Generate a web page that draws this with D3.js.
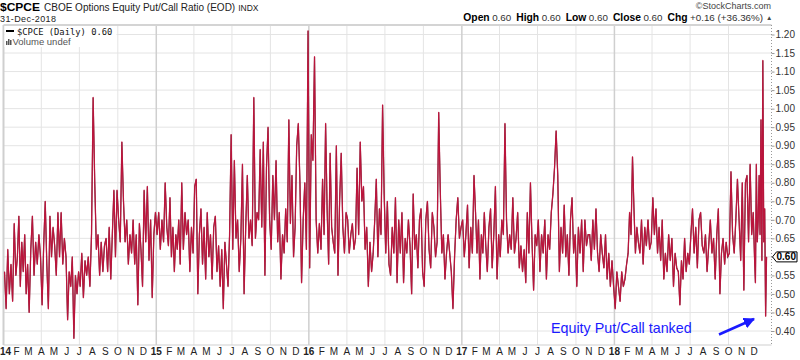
<!DOCTYPE html>
<html><head><meta charset="utf-8">
<script src="https://cdn.jsdelivr.net/npm/d3@7"></script>
<style>body{margin:0;background:#fff} svg{display:block}</style>
</head><body><svg id="c" width="800" height="360"></svg>
<script>
// $CPCE daily values, grouped by month
const cpce2014 = [
 [0.56,0.46,0.62,0.50,0.58,0.48,0.69,0.55],
 [0.60,0.71,0.52,0.64,0.56,0.66,0.50,0.58],
 [0.45,0.62,0.71,0.55,0.64,0.58,0.66,0.60],
 [0.47,0.63,0.75,0.58,0.46,0.71,0.60,0.68],
 [0.63,0.55,0.72,0.60,0.72,0.58,0.65,0.60],
 [0.43,0.56,0.52,0.60,0.38,0.55,0.50,0.56],
 [0.52,0.61,0.49,0.59,0.55,0.60,0.52,0.66],
 [1.03,0.80,0.62,0.66,0.55,0.64,0.56,0.63],
 [0.65,0.56,0.68,0.54,0.66,0.78,0.60,0.78],
 [0.70,0.64,0.91,0.75,0.64,0.70,0.58,0.66],
 [0.61,0.70,0.58,0.66,0.47,0.69,0.62,0.52],
 [0.78,0.64,0.79,0.59,0.70,0.49,0.66,0.72]
];
const cpce2015 = [
 [0.66,0.72,0.62,0.70,0.64,0.80,0.68,0.63],
 [0.76,0.60,0.68,0.56,0.66,0.62,0.70,0.58],
 [0.80,0.62,0.72,0.66,0.70,0.56,0.68,0.61],
 [0.79,0.81,0.50,0.66,0.73,0.58,0.68,0.54],
 [0.72,0.60,0.66,0.54,0.68,0.71,0.56,0.63],
 [0.52,0.62,0.46,0.64,0.58,0.52,0.66,0.93],
 [0.62,0.86,0.65,0.70,0.56,0.65,0.85,0.50],
 [0.68,0.82,0.65,0.70,0.63,1.03,0.65,0.72],
 [0.70,0.89,0.68,0.91,0.55,0.84,0.95,0.70],
 [0.62,0.82,0.70,0.86,0.64,0.72,0.54,0.66],
 [0.61,0.73,0.64,0.97,0.69,0.82,0.60,0.68],
 [0.90,0.96,0.80,0.53,0.70,0.80,0.62,1.21]
];
const cpce2016 = [
 [0.57,0.93,0.86,1.14,0.70,0.61,0.69,0.62],
 [0.81,0.66,0.96,0.73,0.58,0.88,0.68,0.64],
 [0.61,0.90,0.55,0.75,0.88,0.68,0.61,0.72],
 [0.70,0.61,0.66,0.69,0.62,0.65,0.84,0.66],
 [0.91,0.75,0.79,0.62,0.68,0.52,0.64,0.56],
 [0.61,0.70,0.81,0.60,0.73,0.66,1.01,0.77],
 [0.61,0.75,0.58,0.55,0.68,0.61,0.76,0.53],
 [0.70,0.61,0.72,0.53,0.65,0.61,0.70,0.63],
 [0.50,0.77,0.62,0.66,0.57,0.70,0.73,0.56],
 [0.52,0.70,0.75,0.62,0.57,0.72,0.68,0.60],
 [0.64,0.99,0.78,0.61,0.66,0.54,0.61,0.66],
 [0.61,0.56,0.46,0.60,0.70,0.76,0.65,0.68]
];
const cpce2017 = [
 [0.70,0.60,0.66,0.74,0.57,0.68,0.61,0.82],
 [0.72,0.61,0.70,0.54,0.66,0.61,0.72,0.63],
 [0.56,0.68,0.73,0.57,0.66,0.79,0.54,0.66],
 [0.60,0.70,0.66,0.96,0.70,0.61,0.66,0.62],
 [0.76,0.61,0.65,0.72,0.57,0.63,0.56,0.62],
 [0.53,0.72,0.61,0.80,0.64,0.51,0.66,0.63],
 [0.70,0.56,0.66,0.61,0.70,0.54,0.66,0.62],
 [0.72,0.77,0.84,0.94,0.82,0.56,0.68,0.61],
 [0.74,0.60,0.66,0.55,0.70,0.76,0.61,0.66],
 [0.52,0.68,0.61,0.70,0.56,0.70,0.63,0.66],
 [0.66,0.59,0.70,0.62,0.73,0.61,0.56,0.66],
 [0.61,0.57,0.66,0.54,0.61,0.52,0.59,0.52]
];
const cpce2018 = [
 [0.46,0.56,0.52,0.48,0.56,0.52,0.54,0.58],
 [0.61,0.72,0.66,0.87,0.73,0.61,0.68,0.64],
 [0.61,0.70,0.58,0.68,0.63,0.70,0.62,0.64],
 [0.76,0.66,0.73,0.61,0.68,0.59,0.70,0.54],
 [0.61,0.56,0.66,0.59,0.65,0.52,0.61,0.57],
 [0.56,0.47,0.59,0.54,0.65,0.56,0.61,0.58],
 [0.66,0.73,0.61,0.68,0.57,0.70,0.72,0.63],
 [0.61,0.66,0.56,0.63,0.70,0.61,0.65,0.54],
 [0.66,0.73,0.50,0.61,0.65,0.58,0.64,0.60],
 [0.61,0.83,0.66,0.61,0.70,0.81,0.70,0.59],
 [0.80,0.51,0.80,0.82,0.64,0.85,0.66,0.72],
 [0.60,0.53,0.85,0.64,0.70,0.82,0.66,0.97,0.59,1.13,0.64,0.73,0.44,0.60]
];
const years = [2014, 2015, 2016, 2017, 2018];
const yearData = [cpce2014, cpce2015, cpce2016, cpce2017, cpce2018];
const yTicks = [0.40,0.45,0.50,0.55,0.60,0.65,0.70,0.75,0.80,0.85,0.90,0.95,1.00,1.05,1.10,1.15,1.20];
const monthLetters = ["J","F","M","A","M","J","J","A","S","O","N","D"];
const quote = [["Open","0.60"],["High","0.60"],["Low","0.60"],["Close","0.60"],["Chg","+0.16 (+36.36%)"]];
const lastValue = 0.60;
const annotationText = "Equity Put/Call tanked";

// build dated series
const series = [];
yearData.forEach((yd, yi) => {
  yd.forEach((vals, m) => {
    const s = new Date(years[yi], m, 1), e = new Date(years[yi], m + 1, 1);
    vals.forEach((v, i) => {
      series.push({date: new Date(+s + (i + 0.5) / vals.length * (e - s)), value: v});
    });
  });
});

const FONT = "Arial, 'Liberation Sans', sans-serif";
const svg = d3.select("#c").style("font-family", FONT);
const L = 3.5, R = 771.5, T = 25, B = 345;
const x = d3.scaleTime().domain([new Date(2014,0,1), new Date(2019,0,1)]).range([3.7, 767]);
const y = d3.scaleLinear().domain([0.40, 1.20]).range([331, 34.5]);

svg.append("rect").attr("width",800).attr("height",360).attr("fill","#fff");

// horizontal grid
svg.append("g").selectAll("line").data(yTicks).join("line")
  .attr("x1", L).attr("x2", R).attr("y1", d => y(d)).attr("y2", d => y(d))
  .attr("stroke", "#e4e4e4").attr("stroke-width", 1);

// vertical grid (quarters), year lines darker
const months = d3.timeMonths(new Date(2014,0,1), new Date(2019,0,1));
svg.append("g").selectAll("line").data(months.filter(d => d.getMonth() % 3 === 0 && +d > +new Date(2014,0,1))).join("line")
  .attr("x1", d => x(d)).attr("x2", d => x(d)).attr("y1", T).attr("y2", B)
  .attr("stroke", d => d.getMonth() === 0 ? "#cfcfcf" : "#e4e4e4")
  .attr("stroke-width", d => d.getMonth() === 0 ? 1.5 : 1);

// frame
svg.append("line").attr("x1", L).attr("x2", R).attr("y1", T).attr("y2", T).attr("stroke", "#d4d4d4").attr("stroke-width", 2);
svg.append("line").attr("x1", L).attr("x2", R).attr("y1", B).attr("y2", B).attr("stroke", "#cfcfcf").attr("stroke-width", 1);
svg.append("line").attr("x1", L).attr("x2", L).attr("y1", T).attr("y2", B).attr("stroke", "#cfcfcf").attr("stroke-width", 2);
svg.append("line").attr("x1", R).attr("x2", R).attr("y1", T).attr("y2", B).attr("stroke", "#999").attr("stroke-dasharray", "1,2");

// legend
svg.append("rect").attr("x", 4.5).attr("y", 26).attr("width", 112).attr("height", 21).attr("fill", "#fff");
svg.append("line").attr("x1", 6).attr("x2", 14).attr("y1", 31).attr("y2", 31).attr("stroke", "#000").attr("stroke-width", 2);
svg.append("text").attr("x", 17).attr("y", 35).attr("font-family", "'DejaVu Sans Mono', monospace").attr("font-size", 8.8).attr("fill", "#111").text("$CPCE (Daily) " + lastValue.toFixed(2));
const vi = svg.append("g").attr("fill", "#555");
[[6,41,1.5,4],[8,39,1.5,6],[10,40,1.5,5]].forEach(r => vi.append("rect").attr("x", r[0]).attr("y", r[1]).attr("width", r[2]).attr("height", r[3]));
svg.append("text").attr("x", 12.5).attr("y", 45).attr("font-size", 9.5).attr("fill", "#555").text("Volume undef");

// data line
svg.append("clipPath").attr("id", "clip").append("rect").attr("x", L).attr("y", T).attr("width", R - L).attr("height", B - T);
const line = d3.line().x(d => x(d.date)).y(d => y(d.value));
const g = svg.append("g").attr("clip-path", "url(#clip)");
g.append("path").datum(series).attr("d", line).attr("fill", "none").attr("stroke", "#222").attr("stroke-width", 1.1);
g.append("path").datum(series).attr("d", line).attr("fill", "none").attr("stroke", "#d3123f").attr("stroke-width", 1.3).attr("stroke-opacity", 0.85).attr("stroke-linejoin", "round");

// right axis
const yAxis = d3.axisRight(y).tickValues(yTicks).tickSize(3).tickFormat(d3.format(".2f"));
const ya = svg.append("g").attr("transform", `translate(${R},0)`).call(yAxis);
ya.select(".domain").remove();
ya.selectAll("line").attr("stroke", "#999");
ya.selectAll("text").attr("x", 4).attr("font-family", FONT).attr("font-size", 10).attr("fill", "#333");
ya.selectAll(".tick").filter(d => Math.abs(d - lastValue) < 1e-9).select("text").remove();

// last value marker
const ly = y(lastValue);
svg.append("path").attr("d", `M${R+1},${ly} L${R+5},${ly-5} L${797},${ly-5} L${797},${ly+5} L${R+5},${ly+5} Z`)
  .attr("fill", "#fff").attr("stroke", "#000").attr("stroke-width", 1);
svg.append("text").attr("x", 776.5).attr("y", ly + 3.6).attr("font-size", 10).attr("font-weight", "bold").attr("fill", "#000").text(lastValue.toFixed(2));

// x axis labels
svg.append("g").selectAll("text").data(months).join("text")
  .attr("x", (d, i) => i === 0 ? 0 : x(d)).attr("y", 355)
  .attr("text-anchor", (d, i) => i === 0 ? "start" : "middle").attr("font-size", 10)
  .attr("font-weight", d => d.getMonth() === 0 ? "bold" : "normal")
  .attr("fill", "#222")
  .text(d => d.getMonth() === 0 ? String(d.getFullYear()).slice(2) : monthLetters[d.getMonth()]);

// header
svg.append("text").attr("x", 0).attr("y", 11).attr("font-size", 11.5).attr("font-weight", "bold").attr("fill", "#000")
  .attr("textLength", 40).attr("lengthAdjust", "spacingAndGlyphs").text("$CPCE");
const h = svg.append("text").attr("x", 44).attr("y", 11);
h.append("tspan").attr("font-size", 10).attr("fill", "#222").text("CBOE Options Equity Put/Call Ratio (EOD)");
h.append("tspan").attr("dx", 3).attr("font-size", 8.5).attr("fill", "#222").text("INDX");
svg.append("text").attr("x", 0).attr("y", 22).attr("font-size", 9).attr("fill", "#222").attr("textLength", 56).text("31-Dec-2018");
svg.append("text").attr("x", 771).attr("y", 9).attr("text-anchor", "end").attr("font-size", 9).attr("fill", "#444").text("\u00a9StockCharts.com");
const q = svg.append("text").attr("x", 763).attr("y", 20.5).attr("text-anchor", "end");
quote.forEach((p, i) => {
  q.append("tspan").attr("dx", i ? 5 : 0).attr("font-size", 10.3).attr("font-weight", "bold").attr("fill", "#000").text(p[0]);
  q.append("tspan").attr("dx", 2.5).attr("font-size", 9.8).attr("fill", "#333").text(p[1]);
});
svg.append("text").attr("x", 766).attr("y", 20).attr("font-size", 6.5).attr("fill", "#444").text("\u25B2");

// annotation
svg.append("text").attr("x", 551).attr("y", 333).attr("font-size", 14.3).attr("fill", "#1a1aff").text(annotationText);
svg.append("defs").append("marker").attr("id", "ah").attr("viewBox", "0 0 10 10").attr("refX", 9).attr("refY", 5)
  .attr("markerWidth", 4.5).attr("markerHeight", 4.5).attr("orient", "auto")
  .append("path").attr("d", "M0,0 L10,5 L0,10 Z").attr("fill", "#1a1aff");
svg.append("line").attr("x1", 719).attr("y1", 334.5).attr("x2", 754).attr("y2", 319)
  .attr("stroke", "#1a1aff").attr("stroke-width", 2.5).attr("marker-end", "url(#ah)");
</script>
</body></html>
